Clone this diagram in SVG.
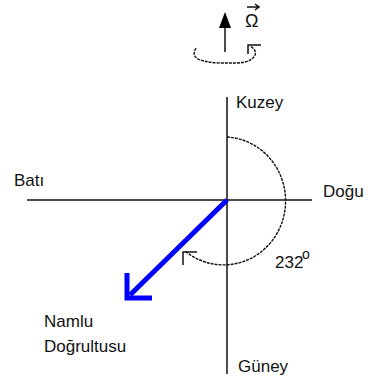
<svg xmlns="http://www.w3.org/2000/svg" width="372" height="387" viewBox="0 0 372 387">
<style>
.t{font-family:"Liberation Sans",Arial,sans-serif;font-size:17px;fill:#111}
.ax{stroke:#111;stroke-width:1.5;fill:none}
.dash{stroke:#111;stroke-width:1.4;fill:none;stroke-dasharray:3 1}
.oa{stroke:#111;stroke-width:1.5;fill:none}
.blue{stroke:#0000ff;stroke-width:5;fill:none}
</style>
<rect width="372" height="387" fill="#fff"/>
<g id="rotation">
<line class="ax" x1="225" y1="52" x2="225" y2="26"/>
<polygon points="225,12 219,28 231,28" fill="#000"/>
<path class="dash" d="M196,48 Q190,58 204,61 Q212,63 222,63 L238,63 Q252,62 255,55 Q257,50 250,46"/>
<polyline class="oa" points="261,45 248,45 248,54"/>
<text class="t" x="245" y="27" style="font-size:18px">Ω</text>
<path class="oa" d="M247,7 L259,7 M255,4 L259,7 L255,10"/>
</g>
<g id="connectors">
<line class="ax" x1="27" y1="200" x2="312" y2="200"/>
<line class="ax" x1="227" y1="97" x2="227" y2="374"/>
<path class="dash" d="M227,137 A62,64 0 1 1 185,251"/>
<polyline class="oa" points="197,252 183,252 183,265"/>
<line class="blue" x1="227" y1="200" x2="130" y2="295"/>
<polyline class="blue" points="127,273 127,298 152,298"/>
</g>
<g id="kuzey"><text class="t" x="236" y="108">Kuzey</text></g>
<g id="bati"><text class="t" x="14" y="186">Batı</text></g>
<g id="dogu"><text class="t" x="323" y="197">Doğu</text></g>
<g id="angle"><text class="t" x="275" y="268">232</text><text class="t" x="302" y="259" style="font-size:14px">o</text></g>
<g id="namlu"><text class="t" x="44" y="327">Namlu</text><text class="t" x="44" y="352">Doğrultusu</text></g>
<g id="guney"><text class="t" x="238" y="372">Güney</text></g>
</svg>
